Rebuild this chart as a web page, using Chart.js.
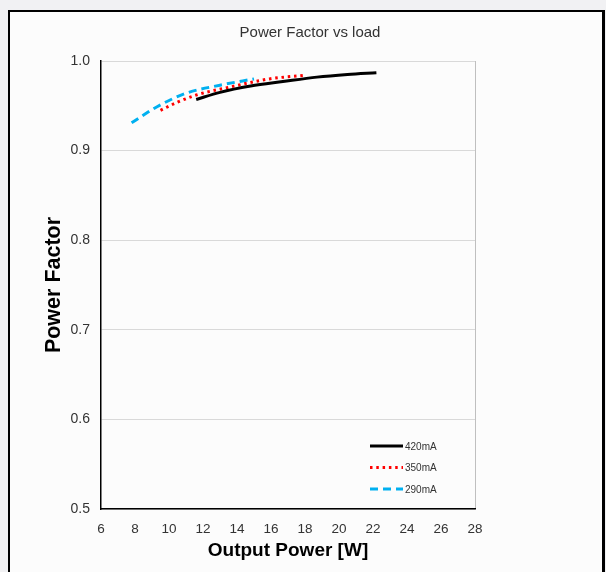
<!DOCTYPE html>
<html>
<head>
<meta charset="utf-8">
<script src="https://cdn.jsdelivr.net/npm/chart.js@4"></script>
<style>
  html, body { margin: 0; padding: 0; background: #f1f1f3; }
  body { width: 606px; height: 572px; position: relative; overflow: hidden; }
  #frame {
    position: absolute; left: 8px; top: 10px; width: 597px; height: 600px;
    box-sizing: border-box; border: 2px solid #000; border-right-width: 3px;
    background: #fcfcfc;
  }
  #chart { position: absolute; left: 0; top: 0; }
</style>
</head>
<body>
<div id="frame"></div>
<canvas id="chart" width="606" height="572"></canvas>
<script>
// ─── Data ─────────────────────────────────────────────
const seriesNames = ['420mA', '350mA', '290mA'];

const powerW420 = [11.6, 13.0, 14.8, 16.7, 18.7, 20.5, 22.2];
const pf420     = [0.957, 0.965, 0.972, 0.977, 0.982, 0.985, 0.987];

const powerW350 = [9.5, 10.5, 11.6, 13.6, 15.9, 17.9];
const pf350     = [0.945, 0.954, 0.962, 0.971, 0.980, 0.984];

const powerW290 = [7.8, 9.3, 11.0, 13.0, 15.0];
const pf290     = [0.931, 0.949, 0.964, 0.973, 0.980];

const xTicks = [6, 8, 10, 12, 14, 16, 18, 20, 22, 24, 26, 28];
const yTicks = [0.5, 0.6, 0.7, 0.8, 0.9, 1.0];

const FONT = "'Liberation Sans', Arial, sans-serif";

function pts(xs, ys) {
    return xs.map(function (x, i) { return { x: x, y: ys[i] }; });
}

// Legend drawn inside the plot, lower right
const innerLegend = {
    id: 'innerLegend',
    afterDatasetsDraw(chart) {
        const ctx = chart.ctx;
        ctx.save();
        chart.data.datasets.forEach(function (ds, i) {
            const y = 446 + i * 21.5;
            ctx.beginPath();
            ctx.strokeStyle = ds.borderColor;
            ctx.lineWidth = ds.borderWidth;
            ctx.setLineDash(ds.borderDash || []);
            ctx.moveTo(370, y);
            ctx.lineTo(403, y);
            ctx.stroke();
            ctx.setLineDash([]);
            ctx.fillStyle = '#333';
            ctx.font = '10px ' + FONT;
            ctx.textBaseline = 'middle';
            ctx.fillText(ds.label, 405, y + 1);
        });
        ctx.restore();
    }
};

const line = { pointRadius: 0, fill: false, tension: 0.4, cubicInterpolationMode: 'monotone' };

new Chart(document.getElementById('chart'), {
    type: 'line',
    data: {
        datasets: [
            Object.assign({ label: seriesNames[0], data: pts(powerW420, pf420),
                borderColor: '#000000', borderWidth: 3 }, line),
            Object.assign({ label: seriesNames[1], data: pts(powerW350, pf350),
                borderColor: '#ff0000', borderWidth: 3, borderDash: [2.5, 3.8] }, line),
            Object.assign({ label: seriesNames[2], data: pts(powerW290, pf290),
                borderColor: '#00b0f0', borderWidth: 3, borderDash: [8, 5] }, line),
        ],
    },
    options: {
        responsive: false,
        animation: false,
        layout: { padding: { left: 20, right: 6, top: 0, bottom: 0 } },
        plugins: {
            legend: { display: false },
            tooltip: { enabled: false },
            title: {
                display: true,
                text: 'Power Factor vs load',
                color: '#333',
                font: { family: FONT, size: 15, weight: 'normal' },
                padding: { top: 24, bottom: 19 },
            },
        },
        scales: {
            x: {
                type: 'linear',
                min: xTicks[0],
                max: xTicks[xTicks.length - 1],
                afterBuildTicks: function (s) { s.ticks = xTicks.map(function (v) { return { value: v }; }); },
                afterFit: function (s) { s.height = 63; },
                grid: {
                    drawTicks: false,
                    color: function (c) { return c.tick && c.tick.value === 28 ? '#bfbfbf' : 'rgba(0,0,0,0)'; },
                },
                border: { color: '#000', width: 1.5 },
                ticks: { color: '#333', padding: 12, font: { family: FONT, size: 13.5 } },
                title: {
                    display: true,
                    text: 'Output Power [W]',
                    color: '#000',
                    font: { family: FONT, size: 19, weight: 'bold' },
                    padding: { top: 0, bottom: 10 },
                },
            },
            y: {
                position: 'left',
                min: yTicks[0],
                max: yTicks[yTicks.length - 1],
                afterBuildTicks: function (s) { s.ticks = yTicks.map(function (v) { return { value: v }; }); },
                afterFit: function (s) { s.width = 81; },
                grid: { drawTicks: false, color: '#d9d9d9' },
                border: { color: '#000', width: 1.5 },
                ticks: {
                    color: '#333', padding: 11, font: { family: FONT, size: 14 },
                    callback: function (v) { return v.toFixed(1); },
                },
                title: {
                    display: true,
                    text: 'Power Factor',
                    color: '#000',
                    font: { family: FONT, size: 21.5, weight: 'bold' },
                    padding: { top: 21, bottom: 0 },
                },
            },
            // spacer on the right so the title stays centred on the page
            y2: {
                position: 'right',
                min: 0, max: 1,
                afterFit: function (s) { s.width = 125; },
                grid: { display: false },
                border: { display: false },
                ticks: { display: false },
            },
        },
    },
    plugins: [innerLegend],
});
</script>
</body>
</html>
